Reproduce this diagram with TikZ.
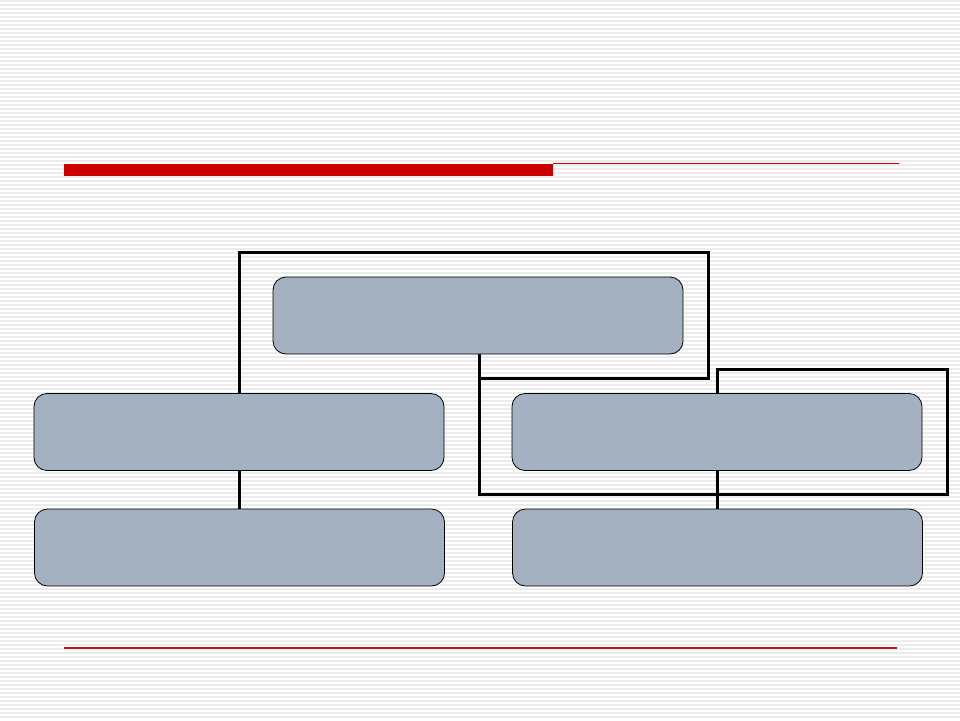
\documentclass[tikz,border=0pt]{standalone}
\definecolor{stripe}{RGB}{236,236,236}
\definecolor{boxfill}{RGB}{163,177,192}
\definecolor{barred}{RGB}{204,0,0}
\definecolor{linered}{RGB}{185,20,30}
\pgfdeclarelayer{bg}
\pgfdeclarelayer{conn}
\pgfsetlayers{bg,conn,main}
\tikzset{
  orgbox/.style={draw=black, line width=0.8pt, fill=boxfill, rounded corners=13pt, minimum width=410pt, minimum height=77pt, inner sep=0pt},
  bracket/.style={draw=black, line width=3pt, line cap=rect},
}
\begin{document}
\begin{tikzpicture}[x=1pt,y=-1pt]
\useasboundingbox (0,0) rectangle (960,720);
\begin{pgfonlayer}{bg}
\fill[white] (0,0) rectangle (960,720);
\foreach \yy in {1,5,...,720} {\draw[stripe, line width=1.8pt] (0,\yy) -- (960,\yy);}
\fill[barred] (64,164) rectangle (553,176);
\draw[barred, line width=1.5pt] (553,163.5) -- (899,163.5);
\draw[linered, line width=1.3pt] (64,648) -- (897,648);
\end{pgfonlayer}
% coordinates
\coordinate (r1tl) at (239,252);
\coordinate (r1tr) at (708,252);
\coordinate (r1br) at (708,378);
\coordinate (r1bl) at (479,378);
\coordinate (r2tl) at (717,369);
\coordinate (r2tr) at (947,369);
\coordinate (r2br) at (947,494);
\coordinate (r2bl) at (479,494);
% boxes
\node[orgbox] (top) at (478,315.5) {};
\node[orgbox] (ml) at (239,432) {};
\node[orgbox] (mr) at (717,432) {};
\node[orgbox] (bl) at (239.5,547.5) {};
\node[orgbox] (br) at (717.5,547.5) {};
% connectors beneath boxes
\begin{pgfonlayer}{conn}
\draw[bracket] (ml.north -| r1tl) -- (r1tl) -- (r1tr) -- (r1br) -- (r1bl);
\draw[bracket] (top.south -| r1bl) -- (r2bl) -- (r2br) -- (r2tr) -- (r2tl) -- (mr.north -| r2tl);
\draw[bracket] (ml.south) -- (bl.north -| ml.south);
\draw[bracket] (mr.south) -- (br.north -| mr.south);
\end{pgfonlayer}
\end{tikzpicture}
\end{document}
